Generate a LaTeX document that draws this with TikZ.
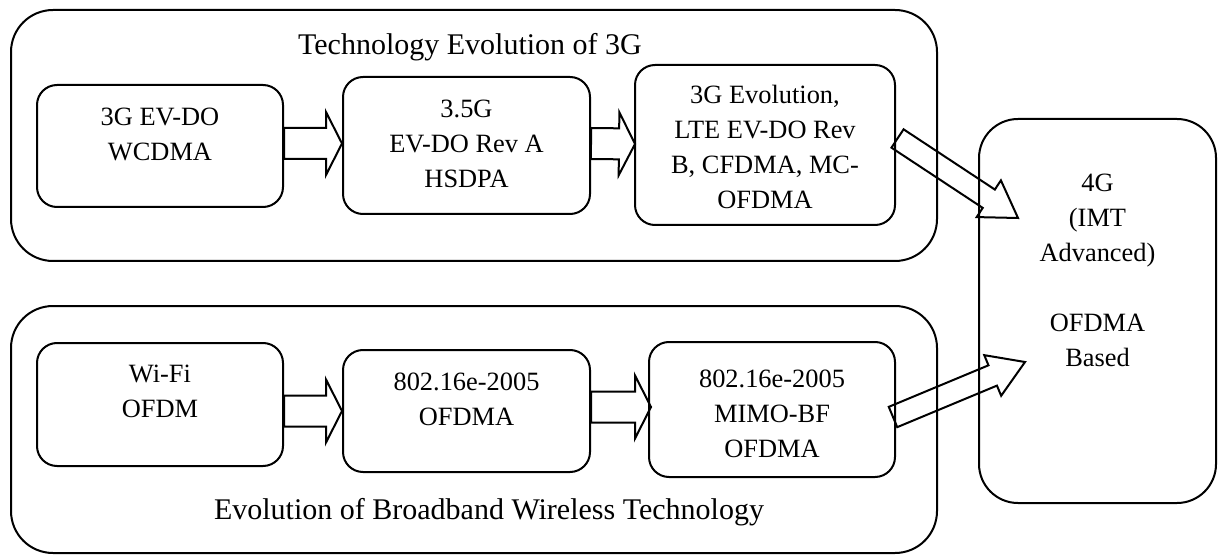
\documentclass[tikz,border=0pt]{standalone}
\usepackage{fontspec}
\setmainfont{Liberation Serif}
\usetikzlibrary{calc}

% Outlined block arrow: tail, tip, half shaft width, half head width, head length
\newcommand\blockarrow[5]{%
  \coordinate (ba-base) at ($(#2)!#5!(#1)$);
  \draw[arrowline]
    ($(#1)!#3!90:(#2)$) -- ($(ba-base)!#3!-90:(#1)$) -- ($(ba-base)!#4!-90:(#1)$)
    -- (#2) -- ($(ba-base)!#4!90:(#1)$) -- ($(ba-base)!#3!90:(#1)$)
    -- ($(#1)!#3!-90:(#2)$) -- cycle;}

\begin{document}
\begin{tikzpicture}[x=0.5pt,y=-0.5pt,
  stagebox/.style={draw,line width=1pt,rounded corners=10pt,inner sep=0pt},
  groupbox/.style={draw,line width=1pt,rounded corners=21pt,inner sep=0pt},
  goalbox/.style={draw,line width=1pt,rounded corners=19.5pt,inner sep=0pt},
  txt/.style={align=center,inner sep=0pt,font=\fontsize{13.2pt}{17.5pt}\selectfont},
  title/.style={align=center,inner sep=0pt,font=\fontsize{15pt}{18pt}\selectfont},
  arrowline/.style={draw,line width=1pt,line join=miter}]
\useasboundingbox (0,0) rectangle (1218,555);

% group frames
\node[groupbox,minimum width=463pt,minimum height=125.5pt] (g3) at (474,135.5) {};
\node[groupbox,minimum width=463pt,minimum height=123.5pt] (gb) at (474,429.5) {};
\node[goalbox,minimum width=118.5pt,minimum height=192pt] (g4) at (1097.5,311) {};

% 3G stages
\node[stagebox,minimum width=123pt,minimum height=61pt]   (t1) at (160,146) {};
\node[stagebox,minimum width=123.5pt,minimum height=68.5pt] (t2) at (466.5,145.5) {};
\node[stagebox,minimum width=130pt,minimum height=80pt]   (t3) at (765,145) {};

% broadband wireless stages
\node[stagebox,minimum width=123pt,minimum height=61.5pt] (w1) at (160,404.5) {};
\node[stagebox,minimum width=123.5pt,minimum height=61pt] (w2) at (466.5,411) {};
\node[stagebox,minimum width=123pt,minimum height=67.5pt] (w3) at (772,409.5) {};

% labels
\node[title] (g3t) at (470,47) {Technology Evolution of 3G};
\node[title] (gbt) at (489,512) {Evolution of Broadband Wireless Technology};
\node[txt] (t1t) at (160,134.5) {3G EV-DO\\WCDMA};
\node[txt] (t2t) at (466.5,144) {3.5G\\EV-DO Rev A\\HSDPA};
\node[txt] (t3t) at (765,146.5) {3G Evolution,\\LTE EV-DO Rev\\B, CFDMA, MC-\\OFDMA};
\node[txt] (w1t) at (160,391.5) {Wi-Fi\\OFDM};
\node[txt] (w2t) at (466.5,399) {802.16e-2005\\OFDMA};
\node[txt] (w3t) at (772,414) {802.16e-2005\\MIMO-BF\\OFDMA};
\node[txt] (g4t) at (1097.5,270.5) {4G\\(IMT\\Advanced)\\~\\OFDMA\\Based};

% arrow end points
\coordinate (a1s) at ([yshift=1.25pt]t1.east);
\coordinate (a1e) at ([yshift=1pt]t2.west);
\coordinate (a2s) at ([yshift=1pt]t2.east);
\coordinate (a2e) at ([xshift=0.5pt,yshift=0.5pt]t3.west);
\coordinate (b1s) at ([yshift=-3.25pt]w1.east);
\coordinate (b1e) at (w2.west);
\coordinate (b2s) at ([yshift=2pt]w2.east);
\coordinate (b2e) at ([xshift=1.5pt,yshift=1.25pt]w3.west);
\coordinate (d1s) at (897.5,138.5);
\coordinate (d1e) at (1018,218);
\coordinate (d2s) at (893,417);
\coordinate (d2e) at (1025,362);

% stage-to-stage arrows
\blockarrow{a1s}{a1e}{7.75pt}{15.75pt}{8pt}
\blockarrow{a2s}{a2e}{7.75pt}{15.75pt}{8pt}
\blockarrow{b1s}{b1e}{7.75pt}{15.75pt}{8pt}
\blockarrow{b2s}{b2e}{7.75pt}{15.75pt}{8pt}

% arrows into 4G
\blockarrow{d1s}{d1e}{5.5pt}{11pt}{17.5pt}
\blockarrow{d2s}{d2e}{5.5pt}{11pt}{17.5pt}
\end{tikzpicture}
\end{document}
